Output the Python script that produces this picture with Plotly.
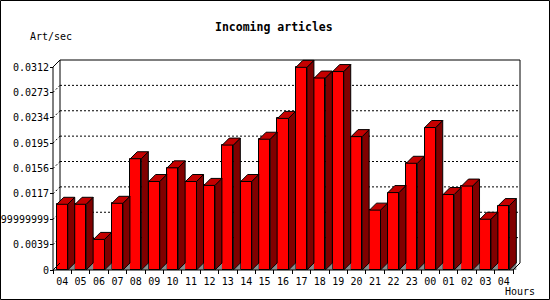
import plotly.graph_objects as go

# ---- data ----
hours = ["04", "05", "06", "07", "08", "09", "10", "11", "12", "13", "14", "15",
         "16", "17", "18", "19", "20", "21", "22", "23", "00", "01", "02", "03", "04"]
art_per_sec = [0.0101, 0.0101, 0.0047, 0.01025, 0.0171, 0.0136, 0.0157, 0.0136,
               0.0130, 0.0192, 0.0136, 0.0201, 0.0233, 0.03115, 0.0295, 0.0305,
               0.0205, 0.0092, 0.0119, 0.0164, 0.0219, 0.0116, 0.0129, 0.0078, 0.0099]
y_tick_vals = [0, 0.0039, 0.0078, 0.0117, 0.0156, 0.0195, 0.0234, 0.0273, 0.0312]
y_tick_text = ["0", "0.0039", "0.00779999999999", "0.0117", "0.0156", "0.0195",
               "0.0234", "0.0273", "0.0312"]

# ---- geometry / style ----
W, H = 550, 300
PL, PR, PT, PB = 50, 523, 57, 274          # plot area in pixels
FRONT_X0 = 53                               # front-left axis pixel
CAT_PX = 18.4                               # pixels per category
ZERO_PY = 270                               # pixel of value 0 (front)
TOP_VAL = y_tick_vals[-1]
TOP_PY = 67                                 # pixel of top tick (front)
VAL_PER_PX = TOP_VAL / (ZERO_PY - TOP_PY)
DEPTH = 7                                   # 3D depth in px
BAR_W = 0.6

x_lo = -0.5 - (FRONT_X0 - PL) / CAT_PX
x_hi = -0.5 + (PR - FRONT_X0) / CAT_PX
y_lo = -(PB - ZERO_PY) * VAL_PER_PX
y_hi = (ZERO_PY - PT) * VAL_PER_PX
dx = DEPTH / CAT_PX
dy = DEPTH * VAL_PER_PX

def px_to_paper_x(px):
    return (px - PL) / (PR - PL)

def px_to_paper_y(py):
    return (PB - py) / (PB - PT)

FRONT = "#ff0000"
TOP = "#c40000"
SIDE = "#800000"
FLOOR = "#8c8c8c"
MONO = "DejaVu Sans Mono"

fig = go.Figure()
xs = list(range(len(hours)))

# gray floor triangles
for x, v in zip(xs, art_per_sec):
    r = x + BAR_W / 2
    fig.add_trace(go.Scatter(x=[r, r + dx, r + dx, r], y=[0, dy, 0, 0], fill="toself",
                             fillcolor=FLOOR, mode="lines", line=dict(width=0),
                             hoverinfo="skip", showlegend=False))

# front faces
fig.add_trace(go.Bar(x=xs, y=art_per_sec, width=BAR_W,
                     marker=dict(color=FRONT, line=dict(color="black", width=1)),
                     hoverinfo="skip", showlegend=False))

# side and top faces
for x, v in zip(xs, art_per_sec):
    l, r = x - BAR_W / 2, x + BAR_W / 2
    fig.add_trace(go.Scatter(x=[r, r + dx, r + dx, r, r], y=[v, v + dy, dy, 0, v],
                             fill="toself", fillcolor=SIDE, mode="lines",
                             line=dict(color="black", width=1),
                             hoverinfo="skip", showlegend=False))
    fig.add_trace(go.Scatter(x=[l, l + dx, r + dx, r, l], y=[v, v + dy, v + dy, v, v],
                             fill="toself", fillcolor=TOP, mode="lines",
                             line=dict(color="black", width=1),
                             hoverinfo="skip", showlegend=False))

shapes = []
xl, xr = -0.5, len(hours) - 0.5
# back dashed gridlines and left-wall dashed diagonals
for v in y_tick_vals[1:-1]:
    shapes.append(dict(type="line", xref="x", yref="y", x0=xl + dx, x1=xr + dx,
                       y0=v + dy, y1=v + dy, layer="below",
                       line=dict(color="black", width=1, dash="2px,2px")))
    shapes.append(dict(type="line", xref="x", yref="y", x0=xl, x1=xl + dx,
                       y0=v, y1=v + dy, layer="below",
                       line=dict(color="black", width=1, dash="2px,2px")))
solid = dict(color="black", width=1)
# back wall frame
shapes.append(dict(type="line", xref="x", yref="y", x0=xl + dx, x1=xr + dx,
                   y0=TOP_VAL + dy, y1=TOP_VAL + dy, layer="below", line=solid))
shapes.append(dict(type="line", xref="x", yref="y", x0=xl + dx, x1=xl + dx,
                   y0=dy, y1=TOP_VAL + dy, layer="below", line=solid))
shapes.append(dict(type="line", xref="x", yref="y", x0=xr + dx, x1=xr + dx,
                   y0=dy, y1=TOP_VAL + dy, layer="below", line=solid))
# front axes
shapes.append(dict(type="line", xref="x", yref="y", x0=xl, x1=xl,
                   y0=0, y1=TOP_VAL, line=solid))
shapes.append(dict(type="line", xref="x", yref="y", x0=xl, x1=xl + dx,
                   y0=TOP_VAL, y1=TOP_VAL + dy, line=solid))
shapes.append(dict(type="line", xref="x", yref="y", x0=xl, x1=xr,
                   y0=0, y1=0, line=solid))
shapes.append(dict(type="line", xref="x", yref="y", x0=xl, x1=xl + dx,
                   y0=0, y1=dy, line=solid))
shapes.append(dict(type="line", xref="x", yref="y", x0=xr, x1=xr + dx,
                   y0=0, y1=dy, line=solid))
# image border
shapes.append(dict(type="rect", xref="paper", yref="paper",
                   x0=px_to_paper_x(0.5), x1=px_to_paper_x(W - 0.5),
                   y0=px_to_paper_y(H - 0.5), y1=px_to_paper_y(0.5),
                   line=solid, fillcolor="rgba(0,0,0,0)"))

annotations = [
    dict(text="<b>Incoming articles</b>", xref="paper", yref="paper",
         x=px_to_paper_x(274), y=px_to_paper_y(27), xanchor="center", yanchor="middle",
         showarrow=False, font=dict(family=MONO, size=11.5, color="black")),
    dict(text="Art/sec", xref="paper", yref="paper",
         x=px_to_paper_x(50.5), y=px_to_paper_y(37), xanchor="center", yanchor="middle",
         showarrow=False, font=dict(family=MONO, size=10, color="black")),
    dict(text="Hours", xref="paper", yref="paper",
         x=px_to_paper_x(519.5), y=px_to_paper_y(291.5), xanchor="center", yanchor="middle",
         showarrow=False, font=dict(family=MONO, size=10, color="black")),
]

fig.update_layout(
    template="none",
    width=W, height=H,
    margin=dict(l=PL, r=W - PR, t=PT, b=H - PB, pad=0, autoexpand=False),
    paper_bgcolor="white", plot_bgcolor="white",
    showlegend=False,
    shapes=shapes,
    annotations=annotations,
    font=dict(family=MONO, size=10, color="black"),
    xaxis=dict(range=[x_lo, x_hi], tickmode="array", tickvals=xs, ticktext=hours,
               ticks="", showgrid=False, zeroline=False, showline=False,
               automargin=False, fixedrange=True,
               tickfont=dict(family=MONO, size=10, color="black"),
               minor=dict(ticks="inside", ticklen=4, tick0=-0.5, dtick=1,
                          tickcolor="black", tickwidth=1, showgrid=False)),
    yaxis=dict(range=[y_lo, y_hi], tickmode="array", tickvals=y_tick_vals,
               ticktext=y_tick_text, ticks="inside", ticklen=3, tickcolor="black",
               tickwidth=1, showgrid=False, zeroline=False, showline=False,
               automargin=False, fixedrange=True,
               tickfont=dict(family=MONO, size=10, color="black")),
    bargap=0,
)

fig.write_html("out.html", config=dict(displayModeBar=False))
